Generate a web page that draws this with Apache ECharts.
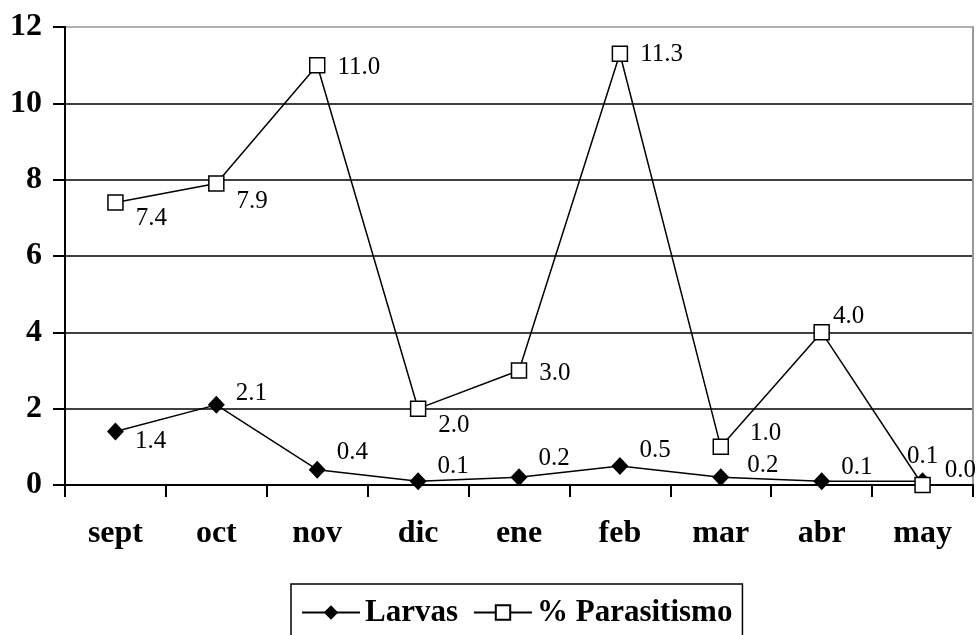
<!DOCTYPE html>
<html>
<head>
<meta charset="utf-8">
<script src="https://cdn.jsdelivr.net/npm/echarts@6/dist/echarts.min.js"></script>
<style>html,body{margin:0;padding:0;background:#fff;}#c{width:980px;height:635px;}</style>
</head>
<body>
<div id="c"></div>
<script>
var categories = ['sept', 'oct', 'nov', 'dic', 'ene', 'feb', 'mar', 'abr', 'may'];
var larvas = [1.4, 2.1, 0.4, 0.1, 0.2, 0.5, 0.2, 0.1, 0.1];
var parasitismo = [7.4, 7.9, 11.0, 2.0, 3.0, 11.3, 1.0, 4.0, 0.0];
var yTicks = [0, 2, 4, 6, 8, 10, 12];

// label offsets (placement only)
var larvasOffsets = [[0, 10], [0, -11], [0, -17], [0, -15], [0, -19], [0, -15], [7, -12], [0, -14], null];
var parOffsets = [[0, 16], [0, 18], [0, 2], [0, 17], [0, 3], [0, 1], [9, -13], [-9, -16], [2, -15]];

var SERIF = '"Liberation Serif", "Times New Roman", serif';

function buildData(values, offsets) {
  return values.map(function (v, i) {
    var o = offsets[i];
    if (o === null) {
      return { value: v, label: { position: 'top', distance: 3, offset: [0, 0] } };
    }
    return { value: v, label: { offset: o } };
  });
}

var chart = echarts.init(document.getElementById('c'), null, { renderer: 'canvas' });
chart.setOption({
  animation: false,
  backgroundColor: '#ffffff',
  grid: { left: 65, right: 7, top: 27, bottom: 150 },
  xAxis: {
    type: 'category',
    data: categories,
    boundaryGap: true,
    axisLine: { lineStyle: { color: '#000', width: 2 } },
    axisTick: { show: true, inside: false, length: 12, interval: 0, alignWithLabel: false, lineStyle: { color: '#000', width: 2 } },
    axisLabel: { interval: 0, margin: 33, color: '#000', fontFamily: SERIF, fontWeight: 'bold', fontSize: 32 },
    splitLine: { show: false }
  },
  yAxis: [{
    type: 'value',
    min: yTicks[0],
    max: yTicks[yTicks.length - 1],
    interval: 2,
    axisLine: { show: true, lineStyle: { color: '#000', width: 2 } },
    axisTick: { show: true, inside: false, length: 12, lineStyle: { color: '#000', width: 2 } },
    axisLabel: { margin: 23, color: '#000', fontFamily: SERIF, fontWeight: 'bold', fontSize: 32 },
    splitLine: { show: true, lineStyle: { color: ['#000', '#000', '#000', '#000', '#000', '#000', '#999'], width: 1.5 } }
  }, {
    type: 'value',
    position: 'right',
    min: 0, max: 12, interval: 2,
    axisLine: { show: true, lineStyle: { color: '#999', width: 2 } },
    axisTick: { show: false },
    axisLabel: { show: false },
    splitLine: { show: false }
  }],
  legend: {
    show: true,
    left: 291,
    top: 584,
    orient: 'horizontal',
    borderColor: '#000',
    borderWidth: 1.5,
    borderRadius: 0,
    padding: [13, 10, 40, 10],
    itemWidth: 58,
    itemHeight: 18,
    itemGap: 15,
    textStyle: { color: '#000', fontFamily: SERIF, fontWeight: 'bold', fontSize: 31 },
    data: ['Larvas', '% Parasitismo']
  },
  series: [{
    name: 'Larvas',
    type: 'line',
    data: buildData(larvas, larvasOffsets),
    symbol: 'diamond',
    symbolSize: [17, 18],
    lineStyle: { color: '#000', width: 1.5 },
    itemStyle: { color: '#000', borderColor: '#000', borderWidth: 0 },
    label: { show: true, position: 'right', distance: 11, color: '#000', fontFamily: SERIF, fontSize: 25, formatter: function (p) { return p.value.toFixed(1); } },
    z: 3
  }, {
    name: '% Parasitismo',
    type: 'line',
    data: buildData(parasitismo, parOffsets),
    symbol: 'rect',
    symbolSize: 15,
    lineStyle: { color: '#000', width: 1.5 },
    itemStyle: { color: '#fff', borderColor: '#000', borderWidth: 1.5 },
    label: { show: true, position: 'right', distance: 12, color: '#000', fontFamily: SERIF, fontSize: 25, formatter: function (p) { return p.value.toFixed(1); } },
    z: 4
  }]
});
</script>
</body>
</html>
